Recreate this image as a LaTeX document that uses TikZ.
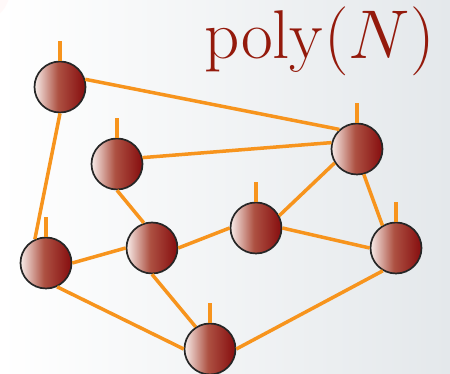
\RequirePackage{fix-cm}
\documentclass[tikz,border=0pt]{standalone}

\definecolor{edgeorange}{HTML}{F7941D}
\definecolor{balldark}{HTML}{8A1414}
\definecolor{ballmid}{HTML}{AD5142}
\definecolor{balllight}{HTML}{F8EDEA}
\definecolor{textred}{HTML}{941A0C}
\definecolor{bggray}{HTML}{E4E8EB}

\pgfdeclarehorizontalshading{ballshade}{100bp}{color(0bp)=(balllight); color(25bp)=(balllight); color(48bp)=(ballmid); color(72bp)=(balldark); color(100bp)=(balldark)}

\begin{document}
\begin{tikzpicture}[
	x=1pt, y=1pt,
	vertex/.style={ circle, draw=black!85, line width=1.7pt, shading=ballshade, shading angle=0, inner sep=0pt, minimum size=51pt },
	wire/.style={ edgeorange, line width=3.5pt }
]

\useasboundingbox (0,0) rectangle (450,374);
\shade[left color=white, middle color=white, right color=bggray] (0,0) rectangle (450,374);
\fill[red!4, opacity=0.6] (-22,384) circle (32);

\node[textred, anchor=base west, inner sep=0pt, font=\fontsize{69}{72}\selectfont] (title) at (204,315) {$\mathrm{poly}(N)$};

\node[vertex] at (60,287) (v1) {};
\node[vertex] at (117,210) (v2) {};
\node[vertex] at (357,225) (v3) {};
\node[vertex] at (46,111) (v4) {};
\node[vertex] at (152,126) (v5) {};
\node[vertex] at (256,146) (v6) {};
\node[vertex] at (396,126) (v7) {};
\node[vertex] at (210,25) (v8) {};

\draw[wire] (v1.17) to (v3.132);
\draw[wire] (v1.270) to (v4.115);
\draw[wire] (v2.14) to (v3.166);
\draw[wire] (v2.270) to (v5.108);
\draw[wire] (v4.0) to (v5.180);
\draw[wire] (v5.0) to (v6.180);
\draw[wire] (v6.28) to (v3.212);
\draw[wire] (v6.0) to (v7.180);
\draw[wire] (v3.285) to (v7.121);
\draw[wire] (v4.295) to (v8.180);
\draw[wire] (v5.270) to (v8.123);
\draw[wire] (v7.240) to (v8.0);
\foreach \p in {v1,v2,v3,v4,v6,v7,v8} \draw[wire] (\p.north) -- ++(0,20);

\end{tikzpicture}
\end{document}
